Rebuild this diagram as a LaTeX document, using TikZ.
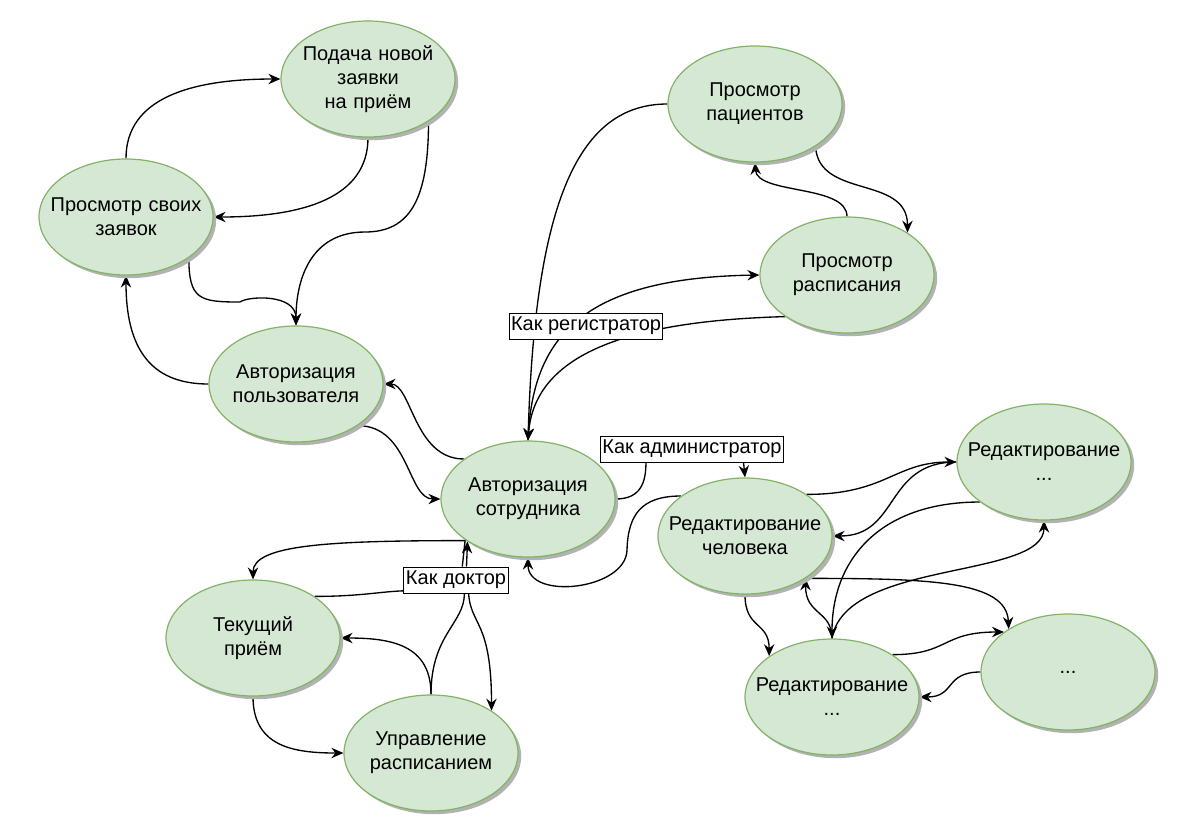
\documentclass[tikz,border=0pt]{standalone}
\usepackage{fontspec}
\setmainfont{Liberation Sans}
\usepackage{tikz}
\usetikzlibrary{arrows.meta,shapes.geometric,shadows,calc}
\definecolor{myfill}{HTML}{D5E8D4}
\definecolor{myline}{HTML}{82B366}
\pgfdeclarelayer{edges}
\pgfsetlayers{edges,main}
\tikzset{
  state/.style={ellipse, draw=myline, fill=myfill, line width=0.9pt,
    minimum width=130.5pt, minimum height=87pt, inner xsep=-14pt, inner ysep=0pt,
    text width=120pt, align=center, font=\fontsize{15}{18}\selectfont,
    drop shadow={shadow xshift=2.4pt, shadow yshift=-2.4pt, fill=black!30, opacity=1}},
  role/.style={draw, fill=white, line width=0.75pt, inner xsep=1.5pt, inner ysep=0pt,
    minimum height=19.5pt, font=\fontsize{15}{18}\selectfont},
  link/.style={line width=1pt},
  arr/.style={link, -{Stealth[length=9pt,width=7.8pt,inset=3pt]}}
}
\begin{document}
\begin{tikzpicture}[x=0.75pt,y=-0.75pt]
\useasboundingbox (0,0) rectangle (1189,833);
% user side
\node[state] (pod) at (368,79) {Подача новой\\заявки\\на приём};
\node[state] (own) at (126,217) {Просмотр своих\\заявок};
\node[state] (usr) at (296,384) {Авторизация\\пользователя};
% staff side
\node[state] (emp) at (528,499) {Авторизация\\сотрудника};
\node[state] (pat) at (755,104) {Просмотр\\пациентов};
\node[state] (sch) at (847,275) {Просмотр\\расписания};
\node[state] (cur) at (253,638) {Текущий\\приём};
\node[state] (mng) at (431,753) {Управление\\расписанием};
\node[state] (hum) at (745,536) {Редактирование\\человека};
\node[state] (ed1) at (1044,462) {Редактирование\\...};
\node[state] (ed2) at (832,697) {Редактирование\\...};
\node[state] (ed3) at (1068,672) {...};
% roles
\node[role] (reg) at (586,326) {Как регистратор};
\node[role] (adm) at (692,449) {Как администратор};
\node[role] (doc) at (456,580) {Как доктор};

\begin{pgfonlayer}{edges}
% user
\draw[arr] (own.north) .. controls +(0,-60) and +(-90,0) .. (pod.west);
\draw[arr] (pod.south) .. controls +(0,60) and +(90,0) .. (own.east);
\draw[arr] (pod.-35) .. controls +(0,78) and +(45,0) .. (365,232)
  .. controls +(-55,0) and +(0,-45) .. (usr.north);
\draw[arr] (own.-33) .. controls +(0,42) and +(-40,0) .. (240,302)
  .. controls +(8,-6) and +(0,-32) .. (usr.north);
\draw[arr] (usr.west) .. controls +(-60,0) and +(0,70) .. (own.south);
\draw[arr] (emp.148) .. controls +(-50,0) and +(28,0) .. (usr.east);
\draw[arr] (usr.-34) .. controls +(52,0) and +(-33,0) .. (emp.west);
% registrar
\draw[arr] (pat.west) .. controls +(-88,0) and +(7,-241) .. (emp.north);
\draw[arr] (sch.-146) .. controls +(-146,4) and +(7,-91) .. (emp.north);
\draw[arr] (emp.north) .. controls +(4,-101) and +(-180,3) .. (sch.west);
\draw[arr] (pat.-35) .. controls +(3,53) and +(0,-58) .. (sch.35);
\draw[arr] (sch.north) .. controls +(0,-32) and +(2,32) .. (pat.south);
% administrator
\draw[link] (emp.east) .. controls +(25,0) and +(0,20) .. ($(adm.south west)!0.25!(adm.south east)$);
\draw[arr] ($(adm.south west)!0.78!(adm.south east)$) -- (hum.north);
\draw[arr] (hum.148) .. controls +(-40,0) and +(1,-35) .. (627,550)
  .. controls +(-1,40) and +(0,43) .. (emp.south);
\draw[arr] (hum.34) .. controls +(80,0) and +(-62,0) .. (ed1.west);
\draw[arr] (ed1.west) .. controls +(-72,0) and +(67,0) .. (hum.east);
\draw[arr] (ed1.-148) .. controls +(-100,0) and +(0,-79) .. (ed2.north);
\draw[arr] (ed2.north) .. controls +(0,-28) and +(0,37) .. (hum.-35);
\draw[arr] (hum.-35) .. controls +(125,0) and +(-2,-48) .. (ed3.144);
\draw[arr] (ed2.north) .. controls +(13,-79) and +(0,59) .. (ed1.south);
\draw[arr] (ed2.35) .. controls +(57,0) and +(-63,0) .. (ed3.148);
\draw[arr] (ed3.west) .. controls +(-36,0) and +(36,0) .. (ed2.east);
\draw[arr] (hum.south) .. controls +(0,35) and +(0,-35) .. (ed2.147);
% doctor
\draw[arr] (emp.-146) .. controls +(-135,0) and +(0,-35) .. (cur.north);
\draw[link] (cur.34) .. controls +(45,0) and +(-25,1) .. ($(doc.west)!0.8!(doc.south west)$);
\draw[arr] ($(doc.north west)!0.6!(doc.north east)$) -- (emp.-145);
\draw[link] (emp.-147) -- ($(doc.north west)!0.56!(doc.north east)$);
\draw[link] (mng.north) .. controls +(0,-60) and +(0,30) .. ($(doc.south west)!0.58!(doc.south east)$);
\draw[arr] ($(doc.south west)!0.62!(doc.south east)$) .. controls +(2,32) and +(0,-90) .. (mng.35);
\draw[arr] (cur.south) .. controls +(0,50) and +(-50,0) .. (mng.west);
\draw[arr] (mng.north) .. controls +(0,-50) and +(50,0) .. (cur.east);
\end{pgfonlayer}
\end{tikzpicture}
\end{document}
